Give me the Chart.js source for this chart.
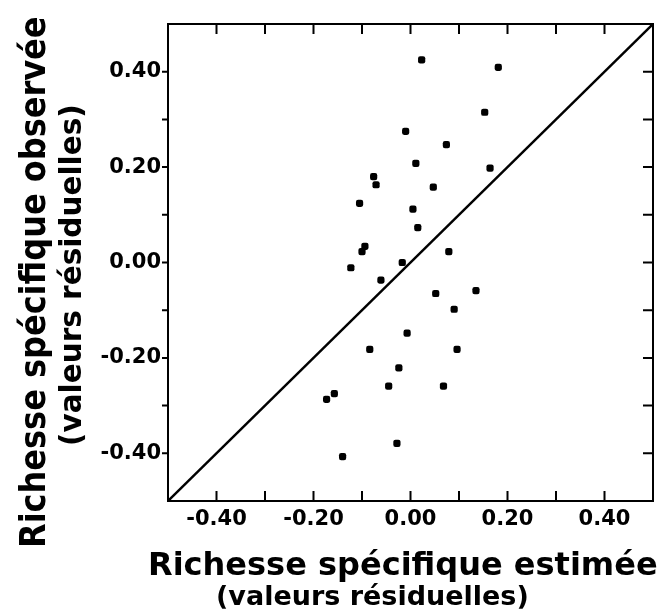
<!DOCTYPE html>
<html lang="fr">
  <head>
    <meta charset="UTF-8" />
    <title>Richesse spécifique</title>
    <style>
      body {
        margin: 0;
        background: #fff;
      }
    </style>
    <script src="https://cdn.jsdelivr.net/npm/chart.js"></script>
  </head>
  <body>
    <canvas id="richesse" width="660" height="612"></canvas>

    <script>
      // valeurs résiduelles : estimée (x) et observée (y)
      const estimee = [
        0.023, 0.181, 0.153, -0.01, 0.074, 0.011, 0.164, -0.076, -0.071, 0.047,
        -0.105, 0.005, 0.015, -0.094, -0.1, 0.079, -0.017, -0.123, -0.061, 0.052,
        0.135, 0.09, -0.007, -0.084, 0.096, -0.024, -0.045, 0.068, -0.157, -0.173,
        -0.028, -0.14,
      ];
      const observee = [
        0.425, 0.409, 0.315, 0.275, 0.247, 0.208, 0.198, 0.18, 0.163, 0.158,
        0.124, 0.112, 0.073, 0.034, 0.023, 0.023, 0.0, -0.011, -0.037, -0.065,
        -0.059, -0.098, -0.148, -0.182, -0.182, -0.221, -0.259, -0.259, -0.275, -0.287,
        -0.379, -0.407,
      ];

      // droite 1:1
      const droite = [-0.5, 0.5];

      // graduations toutes les 0.1, étiquettes une sur deux
      const graduations = [-0.4, -0.3, -0.2, -0.1, 0, 0.1, 0.2, 0.3, 0.4];
      const etiquettes = [-0.4, -0.2, 0, 0.2, 0.4];

      const titreX = "Richesse spécifique estimée";
      const titreY = "Richesse spécifique observée";
      const sousTitre = "(valeurs résiduelles)";

      const police = "DejaVu Sans";

      // cadre, graduations et titres des axes
      const cadre = {
        id: "cadre",
        afterDatasetsDraw(chart) {
          const { ctx, chartArea: a, scales } = chart;
          ctx.save();
          ctx.strokeStyle = "#000";
          ctx.lineWidth = 2;
          ctx.strokeRect(a.left, a.top, a.right - a.left, a.bottom - a.top);

          ctx.beginPath();
          graduations.forEach((v) => {
            const px = scales.x.getPixelForValue(v);
            ctx.moveTo(px, a.bottom);
            ctx.lineTo(px, a.bottom - 10);
            ctx.moveTo(px, a.top);
            ctx.lineTo(px, a.top + 10);
            const py = scales.y.getPixelForValue(v);
            ctx.moveTo(a.left, py);
            ctx.lineTo(a.left - 6, py);
            ctx.moveTo(a.right, py);
            ctx.lineTo(a.right - 10, py);
          });
          ctx.stroke();

          ctx.fillStyle = "#000";
          ctx.textBaseline = "alphabetic";
          ctx.textAlign = "left";
          ctx.font = "bold 32px '" + police + "'";
          ctx.fillText(titreX, 148, 575);
          ctx.font = "bold 27px '" + police + "'";
          ctx.fillText(sousTitre, 216, 605);

          ctx.translate(45, 548);
          ctx.rotate(-Math.PI / 2);
          ctx.save();
          ctx.scale(1, 1.12);
          ctx.font = "bold 32px '" + police + "'";
          ctx.fillText(titreY, 0, 0);
          ctx.restore();
          ctx.font = "bold 29.5px '" + police + "'";
          ctx.fillText(sousTitre, 102, 36);
          ctx.restore();
        },
      };

      const etiquette = (v) => {
        const r = Math.round(v * 10) / 10;
        return etiquettes.includes(r) ? (r === 0 ? 0 : r).toFixed(2) : null;
      };

      new Chart(document.getElementById("richesse"), {
        type: "scatter",
        data: {
          datasets: [
            {
              data: estimee.map((x, i) => ({ x: x, y: observee[i] })),
              pointStyle: "rectRounded",
              pointRadius: 4.2,
              backgroundColor: "#000",
              borderWidth: 0,
            },
            {
              data: droite.map((v) => ({ x: v, y: v })),
              showLine: true,
              pointRadius: 0,
              borderColor: "#000",
              borderWidth: 2.4,
            },
          ],
        },
        options: {
          responsive: false,
          animation: false,
          layout: { padding: { top: 24, right: 7, left: 0, bottom: 0 } },
          plugins: { legend: { display: false }, tooltip: { enabled: false } },
          scales: {
            x: {
              min: -0.5,
              max: 0.5,
              afterFit: (s) => (s.height = 111),
              grid: { display: false, drawTicks: false },
              border: { display: false },
              ticks: {
                stepSize: 0.1,
                autoSkip: false,
                maxRotation: 0,
                padding: 6,
                color: "#000",
                font: { family: police, weight: "bold", size: 21 },
                callback: etiquette,
              },
            },
            y: {
              min: -0.5,
              max: 0.5,
              afterFit: (s) => (s.width = 168),
              grid: { display: false, drawTicks: false },
              border: { display: false },
              ticks: {
                stepSize: 0.1,
                autoSkip: false,
                padding: 7,
                color: "#000",
                font: { family: police, weight: "bold", size: 21 },
                callback: etiquette,
              },
            },
          },
        },
        plugins: [cadre],
      });
    </script>
  </body>
</html>
